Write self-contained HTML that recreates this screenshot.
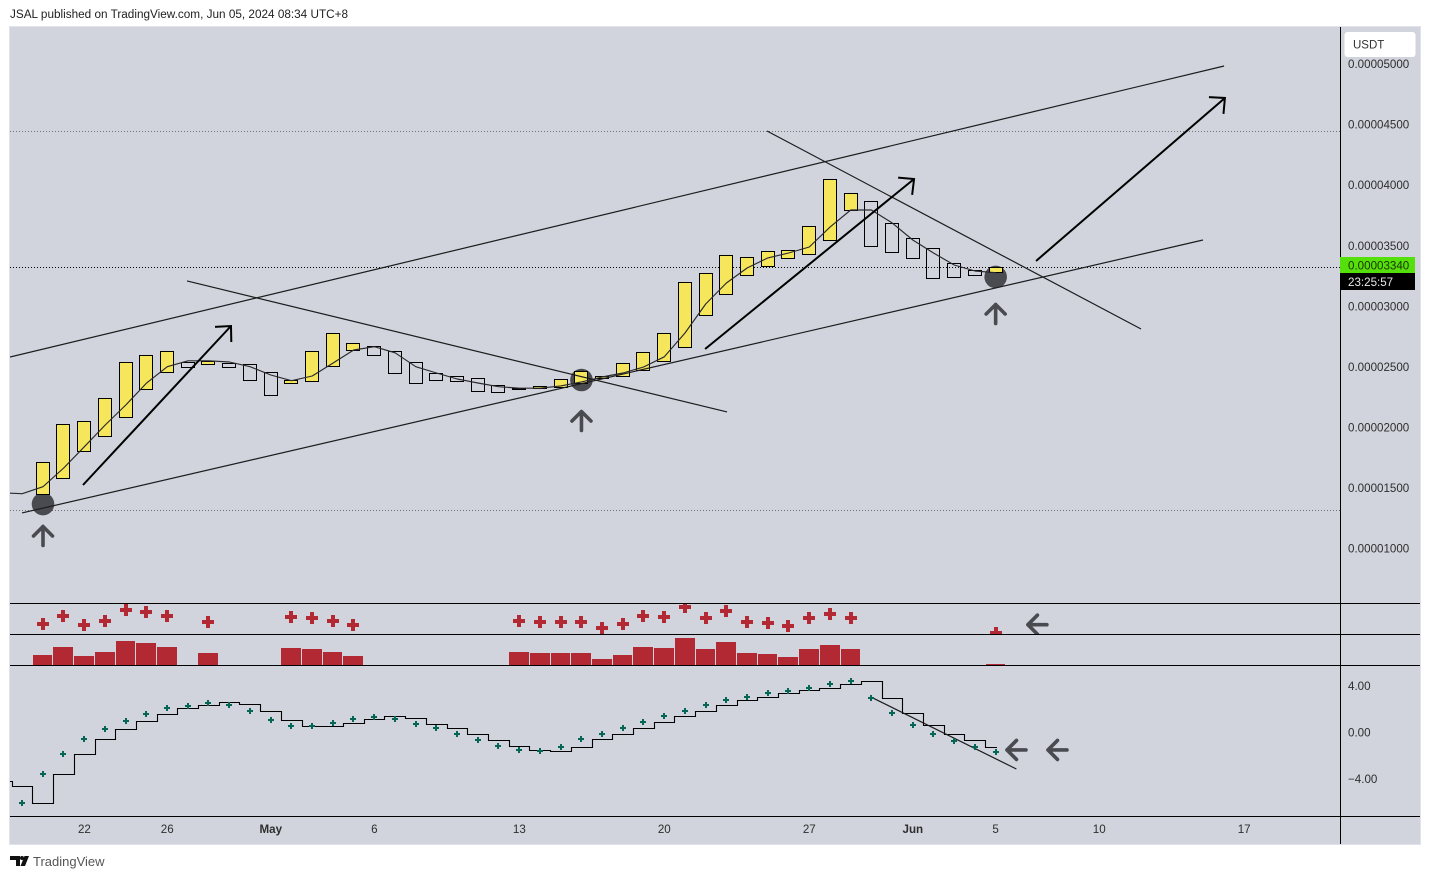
<!DOCTYPE html>
<html lang="en">
<head>
<meta charset="utf-8">
<title>JSAL chart</title>
<style>
html,body{margin:0;padding:0;background:#fff;width:1430px;height:879px;overflow:hidden}
svg{display:block}
text{font-family:"Liberation Sans",sans-serif}
</style>
</head>
<body>
<svg id="chart" xmlns="http://www.w3.org/2000/svg" width="1430" height="879" viewBox="0 0 1430 879">
  <defs>
    <clipPath id="clip-main"><rect x="10" y="27" width="1330" height="576"/></clipPath>
    <clipPath id="clip-p1"><rect x="10" y="604" width="1330" height="30"/></clipPath>
    <clipPath id="clip-p2"><rect x="10" y="635" width="1330" height="30"/></clipPath>
    <clipPath id="clip-p3"><rect x="10" y="666" width="1330" height="150"/></clipPath>
  </defs>
  <text x="10" y="18" font-size="11.75" fill="#222">JSAL published on TradingView.com, Jun 05, 2024 08:34 UTC+8</text>
  <rect x="9.5" y="26.5" width="1411" height="818" fill="#d1d4dc" stroke="#e0e3eb"/>
  <g id="g-main" clip-path="url(#clip-main)"></g>
  <g id="g-p1" clip-path="url(#clip-p1)"></g>
  <g id="g-p2" clip-path="url(#clip-p2)"></g>
  <g id="g-p3" clip-path="url(#clip-p3)"></g>
  <g id="g-axis"></g>
  <line x1="10" x2="1420" y1="603.5" y2="603.5" stroke="#000"/>
  <line x1="10" x2="1420" y1="634.5" y2="634.5" stroke="#000"/>
  <line x1="10" x2="1420" y1="665.5" y2="665.5" stroke="#000"/>
  <line x1="10" x2="1420" y1="816.5" y2="816.5" stroke="#000"/>
  <line x1="1340.5" x2="1340.5" y1="27" y2="844" stroke="#000"/>
  <g>
    <rect x="1340" y="257" width="75" height="16" fill="#55e00b"/>
    <text id="last-price-text" x="1348" y="269.5" font-size="11.6" fill="#1a3300">0.00003340</text>
    <rect x="1340" y="273" width="75" height="17" fill="#000"/>
    <text x="1348" y="286" font-size="11.6" fill="#e8e8e8">23:25:57</text>
  </g>
  <rect x="1344.5" y="32" width="71" height="25" rx="3" fill="#fff"/>
  <text x="1353" y="48.5" font-size="11.5" fill="#333">USDT</text>
  <g>
    <path fill="#111" d="M10 856h10v10h-4v-6h-6zM24.5 856h4.5l-4 10h-4.5z"/>
    <circle cx="22" cy="858" r="2" fill="#111"/>
    <text x="33" y="866" font-size="13" fill="#555">TradingView</text>
  </g>
</svg>
<script>
// ===== Data (prices in 1e-8 USDT, day 0 = Apr 20) =====
const candleOpen = [1470,1602,1825,1949,2106,2337,2477,2556,2544,2548,2539,2473,2387,2403,2527,2659,2692,2651,2560,2469,2444,2428,2370,2345,2345,2354,2387,2428,2444,2494,2568,2684,2948,3122,3278,3353,3419,3452,3567,3815,3890,3708,3584,3501,3378,3320,3303];
const candleClose = [1729,2042,2067,2263,2560,2618,2651,2523,2568,2523,2411,2288,2407,2651,2795,2713,2618,2469,2387,2416,2403,2321,2312,2341,2362,2420,2483,2444,2552,2643,2800,3221,3295,3444,3427,3477,3485,3683,4071,3956,3518,3468,3419,3254,3262,3278,3340];
// moving average, first value is day -2
const maValues = [1481,1473,1531,1685,1861,2040,2206,2387,2522,2571,2571,2561,2522,2453,2406,2445,2552,2660,2687,2637,2522,2470,2420,2387,2357,2344,2344,2363,2396,2437,2470,2519,2604,2800,3040,3213,3337,3420,3461,3510,3675,3816,3816,3709,3568,3461,3362,3312,3298];
// histogram / cross indicator, null = no signal
const signalValues = [10,18,9,13,24,22,18,null,12,null,null,null,17,16,13,9,null,null,null,null,null,null,null,13,12,12,12,6,10,18,17,27,16,23,12,11,8,16,20,16,null,null,null,null,null,null,1];
// oscillator crosses, first value is day -1
const oscCross = [-6.06,-3.57,-1.85,-0.56,0.30,0.99,1.59,2.11,2.31,2.56,2.39,1.85,1.08,0.56,0.56,0.82,1.16,1.36,1.19,0.73,0.39,-0.13,-0.65,-1.16,-1.51,-1.59,-1.25,-0.56,-0.13,0.39,0.90,1.42,1.85,2.37,2.80,3.05,3.40,3.60,3.83,4.17,4.43,2.97,1.68,0.65,-0.13,-0.71,-1.25,-1.68];
// oscillator step line, first value is day -2
const oscStep = [-4.2,-4.65,-6.06,-3.57,-1.85,-0.56,0.30,0.99,1.59,2.11,2.31,2.56,2.39,1.85,1.08,0.56,0.56,0.82,1.16,1.36,1.19,0.73,0.39,-0.13,-0.65,-1.16,-1.51,-1.59,-1.25,-0.56,-0.13,0.39,0.90,1.42,1.85,2.37,2.80,3.05,3.40,3.60,3.83,4.17,4.43,2.97,1.68,0.65,-0.13,-0.71,-1.25];
const priceTicks = [1000,1500,2000,2500,3000,3500,4000,4500,5000];
const priceTickLabels = ["0.00001000","0.00001500","0.00002000","0.00002500","0.00003000","0.00003500","0.00004000","0.00004500","0.00005000"];
const oscTicks = [4,0,-4];
const oscTickLabels = ["4.00","0.00","\u22124.00"];
const timeTickDays = [2,6,11,16,23,30,37,42,46,51,58];
const timeTickLabels = ["22","26","May","6","13","20","27","Jun","5","10","17"];
const boldTimeLabels = ["May","Jun"];
// drawing anchors as [day, price]
const trendLines = [
  [[-1.593,2602],[57.03,5005]],
  [[-1.014,1314],[56.01,3568]],
  [[6.953,3230],[33.03,2148]],
  [[34.96,4468],[53.02,2833]]
];
const bigArrows = [
  [[1.931,1545],[9.078,2858]],
  [[31.97,2668],[42.06,4072]],
  [[47.95,3395],[57.07,4741]]
];
const levelDotted = [4468,1334];
const lastPriceLevel = 3340;
const markerDays = [0,26,46];
const markerPrices = [1388,2412,3263];
const upArrowTipPrices = [1215,2164,3048];
const oscTrend = [[39.98,3.05],[47,-3.14]];
const leftArrowsSignal = [[47.46,9]];
const leftArrowsOsc = [[46.45,-1.5],[48.43,-1.5]];

// ===== Scales =====
const xDay = d => 43 + 20.71 * d;
const xCol = d => Math.floor(43.27 + 20.712 * d);
const yPrice = p => 551 - (p - 1000) * 0.1211;
const yOsc = v => 732.5 - v * 11.625;
const yCross = v => 633.7 - v;
const yHist = v => 665 - v;

const NS = "http://www.w3.org/2000/svg";
function el(tag, attrs, parent, txt) {
  const n = document.createElementNS(NS, tag);
  for (const k in attrs) n.setAttribute(k, attrs[k]);
  if (txt !== undefined) n.textContent = txt;
  parent.appendChild(n);
  return n;
}
const gMain = document.getElementById("g-main");
const gP1 = document.getElementById("g-p1");
const gP2 = document.getElementById("g-p2");
const gP3 = document.getElementById("g-p3");
const gAxis = document.getElementById("g-axis");
const GREY = "#4a4b50";

// Horizontal levels
levelDotted.forEach(p => {
  const y = Math.floor(yPrice(p)) + 0.5;
  const l = el("line", {x1:10,x2:1340,y1:y,y2:y,stroke:"#6f7177","stroke-dasharray":"1 2"}, gMain);
  
  
});
{
  const y = Math.floor(yPrice(lastPriceLevel)) + 0.5;
  const l = el("line", {x1:10,x2:1340,y1:y,y2:y,stroke:"#000","stroke-dasharray":"1 2"}, gMain);
  
  
}

// Marker circles
markerDays.forEach((d, i) => {
  const c = el("circle", {cx:xDay(d),cy:yPrice(markerPrices[i]),r:11.3,fill:GREY}, gMain);
  
  
});

// Candles
candleOpen.forEach((o, i) => {
  const c = candleClose[i];
  const top = Math.floor(yPrice(Math.max(o, c))) + 0.5;
  const bot = Math.round(yPrice(Math.min(o, c))) + 0.5;
  const xc = xCol(i);
  const r = el("rect", {x:xc-6.5,y:top,width:13,height:Math.max(bot-top,1),
    fill:c>=o?"#f5e65b":"none",stroke:"#000","stroke-width":1,"shape-rendering":"crispEdges"}, gMain);
  
  
});

// Moving average
{
  const pts = maValues.map((v, i) => xDay(i - 2).toFixed(1) + "," + yPrice(v).toFixed(1)).join(" ");
  const l = el("polyline", {points:pts,fill:"none",stroke:"#2a2a2e","stroke-width":1.15,"stroke-linejoin":"round"}, gMain);
  
  
}

// Trend lines
trendLines.forEach(t => {
  const l = el("line", {x1:xDay(t[0][0]),y1:yPrice(t[0][1]),x2:xDay(t[1][0]),y2:yPrice(t[1][1]),stroke:"#1c1c1e","stroke-width":1.2}, gMain);
  
  
});

// Big arrows
bigArrows.forEach(a => {
  const x1 = xDay(a[0][0]), y1 = yPrice(a[0][1]), x2 = xDay(a[1][0]), y2 = yPrice(a[1][1]);
  const ang = Math.atan2(y2 - y1, x2 - x1), w = 44 * Math.PI / 180, len = 16;
  const ax = x2 - len * Math.cos(ang - w), ay = y2 - len * Math.sin(ang - w);
  const bx = x2 - len * Math.cos(ang + w), by = y2 - len * Math.sin(ang + w);
  const p = el("path", {d:`M${x1} ${y1}L${x2} ${y2}M${ax} ${ay}L${x2} ${y2}L${bx} ${by}`,fill:"none",stroke:"#000","stroke-width":2}, gMain);
  
  
});

// Grey up arrows
markerDays.forEach((d, i) => {
  const x = xDay(d), y = yPrice(upArrowTipPrices[i]) + 1.5;
  const p = el("path", {d:`M${x-9.5} ${y+9.5}L${x} ${y}L${x+9.5} ${y+9.5}M${x} ${y}V${y+19}`,fill:"none",stroke:GREY,"stroke-width":3.6,"stroke-linecap":"round","stroke-linejoin":"round"}, gMain);
  
  
});

// Grey left arrows
function leftArrow(x, y, parent) {
  const tip = x + 2;
  const p = el("path", {d:`M${tip+9.5} ${y-9.5}L${tip} ${y}L${tip+9.5} ${y+9.5}M${tip} ${y}H${tip+19}`,fill:"none",stroke:GREY,"stroke-width":3.6,"stroke-linecap":"round","stroke-linejoin":"round"}, parent);
  
  
}
leftArrowsSignal.forEach(a => leftArrow(xDay(a[0]), yCross(a[1]), gP1));
leftArrowsOsc.forEach(a => leftArrow(xDay(a[0]), yOsc(a[1]), gP3));

// Red crosses and histogram
signalValues.forEach((v, i) => {
  if (v === null) return;
  const xc = xCol(i);
  const yc = Math.round(yCross(v));
  const p = el("path", {d:`M${xc-6} ${yc-2}h4v-4h4v4h4v4h-4v4h-4v-4h-4z`,fill:"#b22833","shape-rendering":"crispEdges"}, gP1);
  
  
  const left = xc - 10;
  const right = xCol(i + 1) - 11;
  const top = yHist(v);
  const b = el("rect", {x:left,y:top,width:right-left,height:665-top,fill:"#b22833","shape-rendering":"crispEdges"}, gP2);
  
  
});

// Oscillator step line
{
  let d = "";
  oscStep.forEach((v, i) => {
    const day = i - 2;
    const y = Math.floor(yOsc(v) + 0.1) + 0.5;
    const x0 = Math.floor(43.27 + 20.712 * day - 10.4) + 0.5;
    const x1 = i === oscStep.length - 1 ? Math.round(xDay(day) + 1) : Math.floor(43.27 + 20.712 * (day + 1) - 10.4) + 0.5;
    d += (i === 0 ? "M" : "L") + x0 + " " + y + "L" + x1 + " " + y;
  });
  const p = el("path", {d:d,fill:"none",stroke:"#000","stroke-width":1.1}, gP3);
  
  
}
// Oscillator trend line
{
  const l = el("line", {x1:xDay(oscTrend[0][0]),y1:yOsc(oscTrend[0][1]),x2:xDay(oscTrend[1][0]),y2:yOsc(oscTrend[1][1]),stroke:"#1c1c1e","stroke-width":1.2}, gP3);
  
  
}
// Oscillator crosses
oscCross.forEach((v, i) => {
  const xc = xCol(i - 1);
  const yc = Math.round(yOsc(v));
  const p = el("path", {d:`M${xc-3} ${yc-1}h2v-2h2v2h2v2h-2v2h-2v-2h-2z`,fill:"#056656","shape-rendering":"crispEdges"}, gP3);
  
  
});

// Axis labels
priceTicks.forEach((p, i) => {
  const t = el("text", {x:1348,y:yPrice(p)-2.5+4,"font-size":11.6,fill:"#2e2e2e"}, gAxis, priceTickLabels[i]);
  
  
});
oscTicks.forEach((v, i) => {
  const t = el("text", {x:1348,y:yOsc(v)+4,"font-size":11.6,fill:"#2e2e2e"}, gAxis, oscTickLabels[i]);
  
  
});
timeTickDays.forEach((d, i) => {
  const lbl = timeTickLabels[i];
  const t = el("text", {x:xDay(d),y:833,"font-size":11.6,"text-anchor":"middle",fill:"#2e2e2e","font-weight":boldTimeLabels.includes(lbl)?"bold":"normal"}, gAxis, lbl);
  
  
});
</script>
</body>
</html>
